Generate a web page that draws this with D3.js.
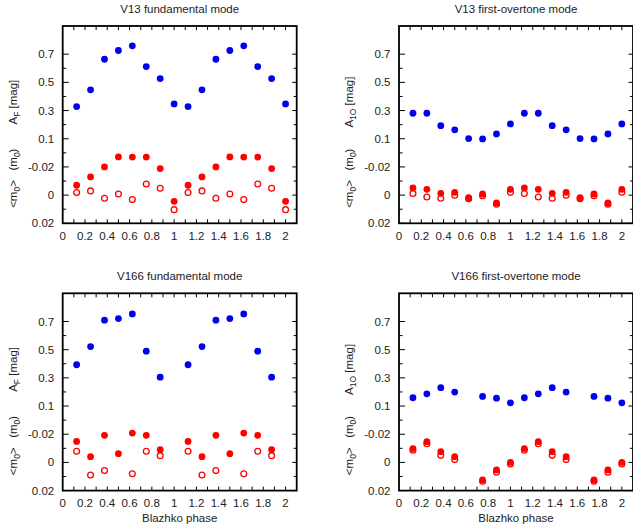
<!DOCTYPE html>
<html><head><meta charset="utf-8">
<script src="https://cdn.jsdelivr.net/npm/d3@7"></script>
<style>
body{margin:0;background:#fff;}
text{font-family:"Liberation Sans",Arial,sans-serif;fill:#222;}
</style></head>
<body><svg id="c" width="633" height="531"></svg>
<script>
// Blazhko phases (two cycles)
const phases = [0.125,0.25,0.375,0.5,0.625,0.75,0.875,1.0,1.125,1.25,1.375,1.5,1.625,1.75,1.875,2.0];
const xTickLabels = [0,0.2,0.4,0.6,0.8,1,1.2,1.4,1.6,1.8,2];
const ampTickLabels = [0.1,0.3,0.5,0.7];
const magTickLabels = [0.02,0,-0.02];

// V13 fundamental mode
const v13F_amp  = [0.328,0.447,0.664,0.726,0.759,0.612,0.527,0.347, 0.328,0.447,0.664,0.726,0.759,0.612,0.527,0.347];
const v13F_mean = [-0.007,-0.0129,-0.020,-0.0271,-0.027,-0.027,-0.0188,0.0044, -0.007,-0.0129,-0.020,-0.0271,-0.027,-0.027,-0.0188,0.0044];
const v13F_m0   = [-0.0018,-0.003,0.0022,-0.0008,0.0032,-0.0079,-0.0049,0.0103, -0.0018,-0.003,0.0022,-0.0008,0.0032,-0.0079,-0.0049,0.0103];
// V13 first-overtone mode
const v13O_amp  = [0.281,0.281,0.193,0.163,0.101,0.099,0.134,0.205, 0.281,0.281,0.193,0.163,0.101,0.099,0.134,0.205];
const v13O_mean = [-0.0051,-0.0041,-0.0013,-0.002,0.0018,-0.0008,0.0056,-0.0041, -0.0051,-0.0041,-0.0013,-0.002,0.0018,-0.0008,0.0056,-0.0041];
const v13O_m0   = [-0.0011,0.0013,0.0022,0.0001,0.0025,0.0004,0.0065,-0.002, -0.0011,0.0013,0.0022,0.0001,0.0025,0.0004,0.0065,-0.002];
// V166 fundamental mode
const v166F_amp  = [0.393,0.522,0.709,0.721,0.754,0.489,0.305,null, 0.393,0.522,0.709,0.721,0.754,0.489,0.305,null];
const v166F_mean = [-0.0149,-0.0041,-0.0192,-0.0062,-0.0208,-0.0192,-0.009,null, -0.0149,-0.0041,-0.0192,-0.0062,-0.0208,-0.0192,-0.009,null];
const v166F_m0   = [-0.0079,0.0089,0.0058,null,0.008,-0.0079,-0.0048,null, -0.0079,0.0089,0.0058,null,0.008,-0.0079,-0.0048,null];
// V166 first-overtone mode
const v166O_amp  = [0.159,0.187,0.230,0.199,null,0.168,0.156,0.123, 0.159,0.187,0.230,0.199,null,0.168,0.156,0.123];
const v166O_mean = [-0.0098,-0.0147,-0.0076,-0.0041,null,0.0124,0.0054,0.0, -0.0098,-0.0147,-0.0076,-0.0041,null,0.0124,0.0054,0.0];
const v166O_m0   = [-0.0086,-0.0133,-0.005,-0.002,null,0.0134,0.007,0.0011, -0.0086,-0.0133,-0.005,-0.002,null,0.0134,0.007,0.0011];

const panels = [
  {title:"V13 fundamental mode", sub:"F", amp:v13F_amp, mean:v13F_mean, m0:v13F_m0, col:0,row:0},
  {title:"V13 first-overtone mode", sub:"1O", amp:v13O_amp, mean:v13O_mean, m0:v13O_m0, col:1,row:0},
  {title:"V166 fundamental mode", sub:"F", amp:v166F_amp, mean:v166F_mean, m0:v166F_m0, col:0,row:1, xlabel:true},
  {title:"V166 first-overtone mode", sub:"1O", amp:v166O_amp, mean:v166O_mean, m0:v166O_m0, col:1,row:1, xlabel:true}
];

const W = 234, H = 197.3;
const X0 = [62.7, 399], Y0 = [26, 293.3];
const svg = d3.select("#c");
const BLUE = "#0000f0", RED = "#ff0000";
const FS = "11.5px";

panels.forEach(p => {
  const g = svg.append("g").attr("transform", `translate(${X0[p.col]},${Y0[p.row]})`);
  const x = d3.scaleLinear().domain([0, 2.1]).range([0, W]);
  const unit = H / 7;
  const yA = d3.scaleLinear().domain([0.1, 0.9]).range([H - 3*unit, 0]);
  const yM = d3.scaleLinear().domain([0.02, -0.04]).range([H, H - 3*unit]);

  // title
  g.append("text").attr("x", W/2).attr("y", -13.5).attr("text-anchor","middle")
    .style("font-size", FS).text(p.title);

  // x ticks (bottom & top) every 0.1
  const xt = d3.range(1, 21).map(i => i/10);
  xt.forEach(v => {
    g.append("line").attr("x1", x(v)).attr("x2", x(v)).attr("y1", H).attr("y2", H-4).attr("stroke","#000").attr("stroke-width",1);
    g.append("line").attr("x1", x(v)).attr("x2", x(v)).attr("y1", 0).attr("y2", 4).attr("stroke","#000").attr("stroke-width",1);
  });
  xTickLabels.forEach(v => {
    g.append("text").attr("x", x(v)).attr("y", H + 16.5).attr("text-anchor","middle")
      .style("font-size", FS).text(v);
  });

  // y ticks
  const majors = ampTickLabels.map(v => yA(v)).concat(magTickLabels.map(v => yM(v)));
  const minorsL = [0.0,0.2,0.4,0.6].map(v => yA(v)).concat([0.01,-0.01].map(v => yM(v)));
  const minorsR = [0.2,0.4,0.6].map(v => yA(v)).concat([0.01,-0.01].map(v => yM(v)));
  majors.forEach(y => {
    g.append("line").attr("x1",0).attr("x2",6).attr("y1",y).attr("y2",y).attr("stroke","#000");
    g.append("line").attr("x1",W).attr("x2",W-4.5).attr("y1",y).attr("y2",y).attr("stroke","#000");
  });
  minorsL.forEach(y => g.append("line").attr("x1",0).attr("x2",3.5).attr("y1",y).attr("y2",y).attr("stroke","#000"));
  minorsR.forEach(y => g.append("line").attr("x1",W).attr("x2",W-3).attr("y1",y).attr("y2",y).attr("stroke","#000"));

  ampTickLabels.forEach(v => g.append("text").attr("x",-8.5).attr("y",yA(v)).attr("dy","0.35em")
    .attr("text-anchor","end").style("font-size",FS).text(v));
  magTickLabels.forEach(v => g.append("text").attr("x",-8.5).attr("y",yM(v)).attr("dy","0.35em")
    .attr("text-anchor","end").style("font-size",FS).text(v));

  // y axis titles
  const t1 = g.append("text").attr("transform", `translate(-46,${yA(0.93 - 0.9 + 0.33)}) rotate(-90)`)
    .attr("text-anchor","middle").style("font-size",FS);
  t1.append("tspan").text("A");
  t1.append("tspan").attr("dy","3").style("font-size","8.5px").text(p.sub);
  t1.append("tspan").attr("dy","-3").text(" [mag]");

  const t2 = g.append("text").attr("transform", `translate(-46,${yM(-0.012)}) rotate(-90)`)
    .attr("text-anchor","middle").style("font-size",FS);
  t2.append("tspan").text("<m");
  t2.append("tspan").attr("dy","3").style("font-size","8.5px").text("0");
  t2.append("tspan").attr("dy","-3").text(">\u00a0\u00a0\u00a0(m");
  t2.append("tspan").attr("dy","3").style("font-size","8.5px").text("0");
  t2.append("tspan").attr("dy","-3").text(")");

  // data points
  const amp = phases.map((ph,i) => ({ph, v:p.amp[i]})).filter(d => d.v !== null);
  const mean = phases.map((ph,i) => ({ph, v:p.mean[i]})).filter(d => d.v !== null);
  const m0 = phases.map((ph,i) => ({ph, v:p.m0[i]})).filter(d => d.v !== null);

  g.selectAll(".a").data(amp).enter().append("circle")
    .attr("cx", d => x(d.ph)).attr("cy", d => yA(d.v)).attr("r", 3.4).attr("fill", BLUE);
  g.selectAll(".m").data(mean).enter().append("circle")
    .attr("cx", d => x(d.ph)).attr("cy", d => yM(d.v)).attr("r", 3.4).attr("fill", RED);
  g.selectAll(".o").data(m0).enter().append("circle")
    .attr("cx", d => x(d.ph)).attr("cy", d => yM(d.v)).attr("r", 2.9).attr("fill", "none")
    .attr("stroke", RED).attr("stroke-width", 1.3);

  // frame
  g.append("rect").attr("x",0).attr("y",0).attr("width",W).attr("height",H)
    .attr("fill","none").attr("stroke","#000").attr("stroke-width",1.8);

  if (p.xlabel) {
    g.append("text").attr("x", W/2).attr("y", H + 31.5).attr("text-anchor","middle")
      .style("font-size", FS).text("Blazhko phase");
  }
});
</script></body></html>
